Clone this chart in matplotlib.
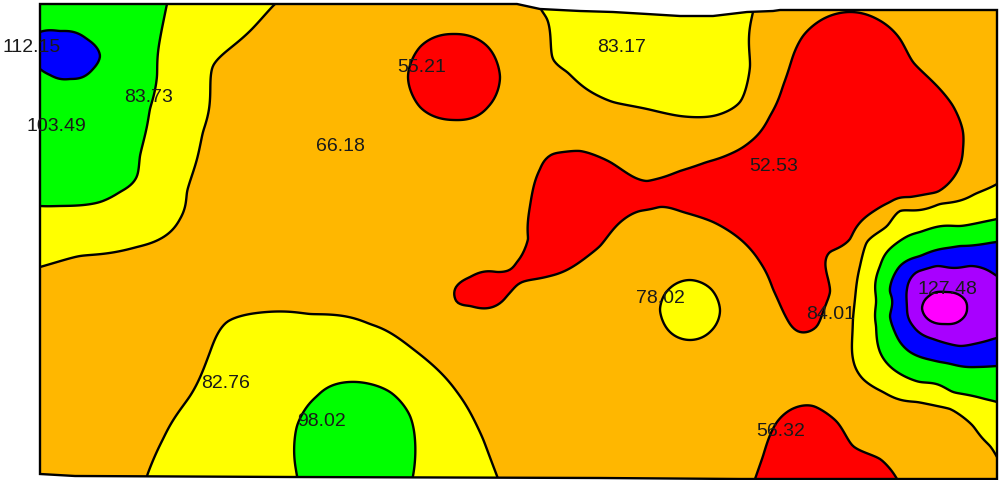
import numpy as np
import matplotlib
matplotlib.use('Agg')
import matplotlib.pyplot as plt
from matplotlib.patches import Polygon

# Labelled sample values and where their labels sit (map units = pixels of the map)
label_values = [112.15, 83.73, 103.49, 55.21, 83.17, 66.18, 52.53,
                78.02, 84.01, 127.48, 82.76, 98.02, 56.32]
label_x = [32, 149, 56, 422, 622, 340, 774, 660, 831, 947, 226, 322, 781]
label_y = [45, 95, 125, 65, 45, 145, 165, 297, 313, 288, 382, 420, 430]

# Survey outline
outline = [(40, 5), (517, 5), (540, 10), (580, 12), (613, 13), (647, 15),
           (680, 17), (713, 17), (747, 13), (773, 12), (780, 11), (997, 11),
           (997, 480), (740, 480), (600, 479), (290, 478), (75, 477), (40, 475)]

# Contour levels and fill colours
levels = [0, 60, 75, 90, 105, 115, 122, 200]
fill_colors = ['#ff0000', '#ffb700', '#ffff00', '#00ff00', '#0000ff', '#a800ff', '#ff00ff']

# Points read along each isoline
iso60 = [(408, 78), (420, 48), (454, 35), (488, 48), (500, 78), (488, 108), (454, 121), (420, 108),
         (455, 290), (457, 303), (470, 307), (507, 297), (550, 277), (600, 247), (640, 212),
         (660, 208), (683, 213), (713, 223), (740, 240), (760, 263), (773, 290), (787, 320),
         (800, 333), (817, 327), (830, 293), (830, 253), (850, 240), (867, 217), (890, 203),
         (910, 198), (937, 193), (957, 173), (963, 150), (963, 133), (953, 107), (937, 87),
         (913, 63), (900, 40), (877, 20), (850, 13), (823, 20), (803, 37), (793, 57), (783, 87),
         (770, 117), (750, 143), (730, 155), (707, 163), (680, 172), (647, 182), (610, 163),
         (580, 152), (553, 155), (540, 170), (530, 207), (528, 240), (517, 263), (497, 273),
         (470, 278),
         (755, 480), (763, 457), (777, 423), (797, 408), (813, 407), (837, 423), (853, 447),
         (880, 460), (897, 480)]
iso75 = [(275, 5), (250, 32), (220, 58), (213, 67), (210, 100), (203, 133), (197, 160),
         (187, 193), (180, 220), (160, 240), (137, 248), (80, 257), (40, 268),
         (542, 12), (547, 20), (553, 60), (567, 73), (580, 85), (613, 103), (647, 110),
         (680, 117), (713, 117), (740, 103), (750, 67), (753, 13),
         (660, 311), (669, 290), (690, 281), (711, 290), (720, 311), (711, 332), (690, 341),
         (669, 332),
         (997, 185), (975, 195), (940, 205), (900, 212), (887, 227), (867, 243), (860, 267),
         (856, 290), (853, 320), (853, 360), (863, 380), (883, 393), (917, 403), (950, 410),
         (973, 427), (990, 447), (997, 458),
         (147, 477), (163, 440), (190, 397), (210, 353), (227, 323), (250, 315), (310, 315),
         (370, 325), (413, 350), (457, 393), (483, 440), (497, 477)]
iso90 = [(167, 5), (160, 40), (157, 77), (150, 110), (147, 127), (140, 157), (137, 177),
         (120, 193), (100, 203), (60, 207), (40, 207),
         (997, 220), (960, 227), (920, 233), (893, 247), (880, 267), (876, 300), (876, 327),
         (880, 353), (893, 370), (920, 383), (953, 393), (985, 400), (997, 403),
         (297, 477), (297, 427), (317, 397), (357, 383), (390, 393), (410, 417), (413, 477)]
iso105 = [(40, 33), (60, 32), (87, 40), (100, 57), (93, 70), (70, 80), (50, 76), (40, 70),
          (997, 243), (960, 247), (920, 257), (900, 267), (890, 293), (890, 317), (900, 343),
          (910, 353), (940, 363), (977, 368), (997, 367)]
iso115 = [(997, 277), (970, 267), (937, 267), (917, 273), (907, 290), (907, 310), (913, 327),
          (933, 340), (960, 347), (993, 340)]
iso122 = [(922, 309), (929, 297), (945, 293), (961, 297), (967, 309), (961, 321), (945, 325),
          (929, 321)]

# Interior readings (x, y, value)
interior = [(60, 56, 112.15), (85, 140, 103.49), (454, 78, 55.21), (800, 180, 52.53),
            (690, 311, 78.02), (945, 309, 127.48), (355, 440, 98.02), (815, 460, 55.5),
            (650, 50, 83.17), (180, 110, 83.73), (260, 420, 82.76), (340, 145, 66.18),
            # red
            (870, 110, 51), (900, 150, 53), (840, 60, 55), (740, 195, 55), (650, 195, 58.5),
            (560, 210, 57), (535, 240, 58), (490, 288, 58.5), (805, 290, 57.5), (600, 215, 58),
            # yellow
            (215, 20, 83), (90, 232, 82), (165, 205, 82), (600, 40, 82), (720, 50, 81),
            (865, 300, 82), (930, 395, 82), (975, 211, 82), (990, 425, 82), (200, 450, 81),
            (450, 440, 81), (300, 350, 84),
            # green
            (110, 20, 99), (45, 140, 100), (130, 60, 96), (885, 300, 97), (940, 374, 97),
            (960, 237, 97), (997, 385, 97), (997, 231, 97),
            # blue
            (898, 305, 110), (950, 356, 110), (960, 257, 110), (997, 357, 110), (997, 255, 110),
            # purple
            (915, 308, 118.5), (990, 310, 120), (970, 335, 118), (945, 280, 118),
            # orange
            (300, 60, 67), (350, 250, 68), (250, 270, 68), (100, 330, 68), (60, 420, 68),
            (100, 460, 68), (550, 350, 67), (600, 420, 67), (700, 440, 68), (520, 440, 70),
            (400, 285, 70), (620, 280, 68), (740, 380, 68), (820, 370, 67), (900, 435, 67),
            (960, 465, 70), (985, 100, 66), (985, 20, 66), (950, 25, 64), (520, 40, 67),
            (772, 40, 67.5), (710, 140, 67), (620, 135, 67), (560, 125, 67), (380, 40, 67),
            (380, 115, 66), (40, 300, 70), (150, 300, 68), (640, 311, 70), (690, 375, 70),
            (740, 311, 70), (690, 250, 67), (842, 310, 68), (450, 200, 67), (250, 180, 69),
            (650, 470, 68), (40, 470, 68)]


def collect():
    pts = []
    for v, iso in [(60, iso60), (75, iso75), (90, iso90), (105, iso105), (115, iso115), (122, iso122)]:
        pts += [(x, y, v) for x, y in iso]
    pts += interior
    return np.array(pts, dtype=float)


def tps_kernel(d):
    with np.errstate(divide='ignore', invalid='ignore'):
        k = d ** 2 * np.log(d)
    return np.nan_to_num(k)


data = collect()
px, py, pv = data[:, 0] / 100, data[:, 1] / 100, data[:, 2]
n = len(pv)
d = np.hypot(px[:, None] - px[None, :], py[:, None] - py[None, :])
K = tps_kernel(d) + 1e-4 * np.eye(n)
P = np.column_stack([np.ones(n), px, py])
A = np.zeros((n + 3, n + 3))
A[:n, :n] = K
A[:n, n:] = P
A[n:, :n] = P.T
rhs = np.concatenate([pv, np.zeros(3)])
coef = np.linalg.solve(A, rhs)
w, a = coef[:n], coef[n:]

xs = np.arange(36, 1002, 2.0)
ys = np.arange(0, 484, 2.0)
X, Y = np.meshgrid(xs, ys)
Z = np.empty_like(X)
for i in range(len(ys)):
    gx, gy = X[i] / 100, Y[i] / 100
    dd = np.hypot(gx[:, None] - px[None, :], gy[:, None] - py[None, :])
    Z[i] = tps_kernel(dd) @ w + a[0] + a[1] * gx + a[2] * gy
Z = np.clip(Z, 1, 199)

fig = plt.figure(figsize=(9.99, 4.81), dpi=100)
ax = fig.add_axes([0, 0, 1, 1])
ax.set_xlim(0, 999)
ax.set_ylim(481, 0)
ax.axis('off')

border = Polygon(outline, closed=True, facecolor='none', edgecolor='black', linewidth=1.7, zorder=4)
ax.add_patch(border)

cf = ax.contourf(X, Y, Z, levels=levels, colors=fill_colors)
cf.set_clip_path(border)
cl = ax.contour(X, Y, Z, levels=levels[1:-1], colors='black', linewidths=1.7)
cl.set_clip_path(border)

for v, x, y in zip(label_values, label_x, label_y):
    ax.text(x, y + 6.5, f'{v:.2f}', ha='center', va='baseline', fontsize=14,
            family='Liberation Sans', color='#1a1a1a', zorder=5)

fig.savefig('out.png', dpi=100)
